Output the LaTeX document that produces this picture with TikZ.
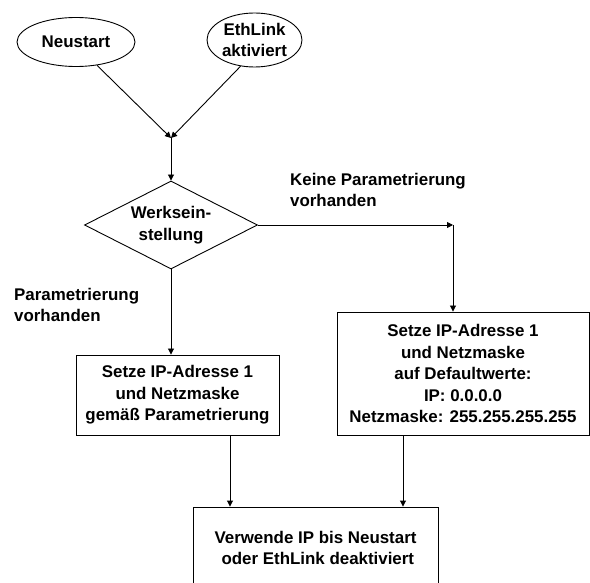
\documentclass[tikz,border=0pt]{standalone}
\usepackage{fontspec}
\setmainfont{Liberation Sans}
\usetikzlibrary{shapes.geometric,arrows.meta}
\tikzset{
  every node/.style={font=\bfseries\fontsize{16.9}{21.5}\selectfont, align=center, inner sep=0pt},
  line/.style={draw=black, line width=0.9pt},
  arr/.style={line, -{Triangle[length=6pt,width=6pt]}},
  startnode/.style={ellipse, draw, line width=0.9pt},
  boxnode/.style={rectangle, draw, line width=0.9pt},
  decnode/.style={diamond, draw, line width=0.9pt, minimum width=173pt, minimum height=88pt},
  lbl/.style={align=left, anchor=north west}
}
\begin{document}
\begin{tikzpicture}[x=1pt,y=-1pt]
\clip (0,0) rectangle (590,583);
\fill[white] (0,0) rectangle (590,583);
% nodes
\node[startnode, minimum width=118pt, minimum height=49pt] (neu) at (76,42) {};
\node at (neu) {Neustart};
\node[startnode, minimum width=95pt, minimum height=54pt] (eth) at (254.5,40) {};
\node at (eth) {EthLink\\aktiviert};
\coordinate (merge) at (171,138);
\node[decnode] (dec) at (171,225) {};
\node at (dec) {Werksein-\\stellung};
\coordinate (corner) at (453,225);
\node[boxnode, minimum width=203pt, minimum height=80pt] (b1) at (177.5,395) {Setze IP-Adresse 1\\und Netzmaske\\gemäß Parametrierung};
\node[boxnode, minimum width=252pt, minimum height=123pt] (b2) at (463,373.5) {Setze IP-Adresse 1\\und Netzmaske\\auf Defaultwerte:\\IP: 0.0.0.0\\Netzmaske: 255.255.255.255};
\node[boxnode, minimum width=245pt, minimum height=82pt] (b3) at (315.5,548) {Verwende IP bis Neustart\\\ oder EthLink deaktiviert};
% labels
\node[lbl] (l1) at (290,173) {Keine Parametrierung\\vorhanden};
\node[lbl] (l2) at (14,288) {Parametrierung\\vorhanden};
% connectors
\draw[arr] (neu.-48) -- (merge);
\draw[arr] (eth.-118) -- (merge);
\draw[arr] (merge) -- (dec.north);
\draw[arr] (dec.east) -- (corner);
\draw[arr] (corner) -- (b2.north -| corner);
\draw[arr] (dec.south) -- (dec.south |- b1.north);
\draw[arr] (b1.south -| 230,0) -- (b3.north -| 230,0);
\draw[arr] (b2.south -| 403,0) -- (b3.north -| 403,0);
\end{tikzpicture}
\end{document}
